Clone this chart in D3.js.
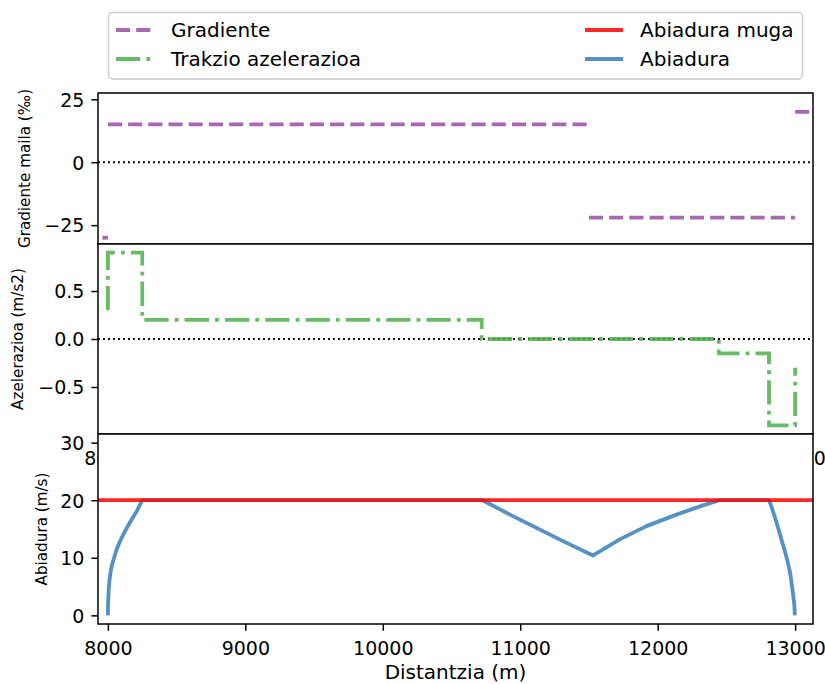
<!DOCTYPE html>
<html>
<head>
<meta charset="utf-8">
<script src="https://cdn.jsdelivr.net/npm/d3@7"></script>
<style>
  body { margin: 0; background: #fff; }
  svg { display: block; }
  text { font-family: "DejaVu Sans", sans-serif; }
</style>
</head>
<body>
<svg id="chart" width="825" height="684"></svg>
<script>
// Track section 8000–13000 m: gradient, traction acceleration and speed profile

const distanceTicks = [8000, 9000, 10000, 11000, 12000, 13000];

// Gradient (‰): separate horizontal pieces
const gradientStart = [7960, 8000, 11500, 13000];
const gradientEnd   = [8000, 11500, 13000, 13120];
const gradientValue = [-30, 15, -22, 20];
const gradientTicks = [-25, 0, 25];

// Traction acceleration (m/s2) as a stepped polyline
const accelDistance = [8000, 8000, 8250, 8250, 10720, 10720, 12445, 12445, 12810, 12810, 13000, 13000];
const accelValue    = [0.3, 0.9, 0.9, 0.2, 0.2, 0.0, 0.0, -0.15, -0.15, -0.9, -0.9, -0.3];
const accelTicks = [-0.5, 0, 0.5];

// Speed profile (m/s)
const speedDistance = [8000, 8002, 8006, 8012, 8020, 8030, 8045, 8063, 8085, 8111, 8140, 8172, 8208, 8250,
  10725, 10925, 11118, 11311, 11530, 11724, 11918, 12136, 12329, 12450,
  12810, 12830, 12851, 12875, 12900, 12925, 12948, 12965, 12977, 12987, 12994, 12998];
const speedValue = [0, 2.5, 4.5, 6.2, 7.6, 8.8, 10.0, 11.4, 12.7, 14.0, 15.3, 16.6, 18.0, 20,
  20, 17.5, 15.2, 12.9, 10.4, 13.2, 15.5, 17.5, 19.1, 20,
  20, 18.7, 17.2, 15.3, 13.2, 11.2, 9.1, 7.2, 5.1, 3.3, 1.8, 0];
const speedLimit = 20;
const speedTicks = [0, 10, 20, 30];

// Legend entries
const legendLabels = ["Gradiente", "Trakzio azelerazioa", "Abiadura muga", "Abiadura"];

const COLORS = {
  gradient: "#984ea3",
  accel: "#4daf4a",
  limit: "#ff0000",
  speed: "#377eb8"
};
const LW = 3.8;
const FS = 19;
const FS_LABEL = 20;

const svg = d3.select("#chart");
const left = 98, right = 813;

const x = d3.scaleLinear().domain([7928, 13130]).range([left, right]);

const panels = {
  grad:  { top: 93,  bottom: 244, domain: [-32.5, 27.5] },
  accel: { top: 244, bottom: 434, domain: [-0.99, 0.99] },
  speed: { top: 434, bottom: 624, domain: [-1.5, 31.5] }
};
for (const k in panels) {
  const p = panels[k];
  p.y = d3.scaleLinear().domain(p.domain).range([p.bottom, p.top]);
}

const defs = svg.append("defs");
function makePanel(key) {
  const p = panels[key];
  defs.append("clipPath").attr("id", "clip-" + key)
    .append("rect").attr("x", left).attr("y", p.top)
    .attr("width", right - left).attr("height", p.bottom - p.top);
  const g = svg.append("g").attr("class", "panel-" + key);
  g.append("rect").attr("x", left).attr("y", p.top)
    .attr("width", right - left).attr("height", p.bottom - p.top)
    .attr("fill", "#fff");
  const plot = g.append("g").attr("clip-path", "url(#clip-" + key + ")");
  return { g, plot, p };
}

function styleAxis(ax) {
  ax.select(".domain").remove();
  ax.selectAll(".tick line").attr("stroke", "#000").attr("stroke-width", 1.5);
  ax.selectAll(".tick text").attr("fill", "#000").attr("font-size", FS)
    .attr("font-family", "DejaVu Sans, sans-serif");
}

function yAxis(panel, ticks, fmt) {
  const ax = panel.g.append("g").attr("transform", `translate(${left},0)`)
    .call(d3.axisLeft(panel.p.y).tickValues(ticks).tickFormat(fmt).tickSize(6.65).tickPadding(7));
  styleAxis(ax);
  ax.selectAll(".tick text").attr("dy", "0.36em");
  return ax;
}

function xAxis(panel) {
  const ax = panel.g.append("g").attr("transform", `translate(0,${panel.p.bottom})`)
    .call(d3.axisBottom(x).tickValues(distanceTicks).tickFormat(d3.format("d")).tickSize(6.65));
  styleAxis(ax);
  ax.selectAll(".tick text").attr("y", 31).attr("dy", 0);
  return ax;
}

function frame(panel) {
  panel.g.append("rect").attr("x", left).attr("y", panel.p.top)
    .attr("width", right - left).attr("height", panel.p.bottom - panel.p.top)
    .attr("fill", "none").attr("stroke", "#000").attr("stroke-width", 1.5);
}

function zeroLine(panel) {
  panel.plot.append("line")
    .attr("x1", left).attr("x2", right)
    .attr("y1", panel.p.y(0)).attr("y2", panel.p.y(0))
    .attr("stroke", "#000").attr("stroke-width", 1.9)
    .attr("stroke-dasharray", "1.9,3.1");
}

function yLabel(panel, text, xPos) {
  const cy = (panel.p.top + panel.p.bottom) / 2;
  panel.g.append("text")
    .attr("transform", `translate(${xPos},${cy}) rotate(-90)`)
    .attr("text-anchor", "middle")
    .attr("font-size", 15.2).attr("fill", "#000")
    .text(text);
}

// ---- Gradient panel ----
const pg = makePanel("grad");
zeroLine(pg);
pg.plot.selectAll("line.grad")
  .data(gradientValue.map((v, i) => ({ s: gradientStart[i], e: gradientEnd[i], v })))
  .join("line").attr("class", "grad")
  .attr("x1", d => x(d.s)).attr("x2", d => x(d.e))
  .attr("y1", d => pg.p.y(d.v)).attr("y2", d => pg.p.y(d.v))
  .attr("stroke", COLORS.gradient).attr("stroke-opacity", 0.85)
  .attr("stroke-width", LW).attr("stroke-dasharray", "14.1,6.1");
yAxis(pg, gradientTicks, d3.format("d"));
frame(pg);
yLabel(pg, "Gradiente maila (‰)", 30);

// ---- Acceleration panel ----
const pa = makePanel("accel");
zeroLine(pa);
const accelPts = accelDistance.map((d, i) => [d, accelValue[i]]);
pa.plot.append("path")
  .attr("d", d3.line().x(d => x(d[0])).y(d => pa.p.y(d[1]))(accelPts))
  .attr("fill", "none")
  .attr("stroke", COLORS.accel).attr("stroke-opacity", 0.85)
  .attr("stroke-width", LW).attr("stroke-dasharray", "24.3,6.1,3.8,6.1");
xAxis(pa);
yAxis(pa, accelTicks, d3.format(".1f"));
frame(pa);
yLabel(pa, "Azelerazioa (m/s2)", 23);

// ---- Speed panel ----
const ps = makePanel("speed");
const speedPts = speedDistance.map((d, i) => [d, speedValue[i]]);
ps.plot.append("path")
  .attr("d", d3.line().x(d => x(d[0])).y(d => ps.p.y(d[1]))(speedPts))
  .attr("fill", "none")
  .attr("stroke", COLORS.speed).attr("stroke-opacity", 0.85)
  .attr("stroke-width", LW).attr("stroke-linejoin", "round");
ps.plot.append("line")
  .attr("x1", left).attr("x2", right)
  .attr("y1", ps.p.y(speedLimit)).attr("y2", ps.p.y(speedLimit))
  .attr("stroke", COLORS.limit).attr("stroke-opacity", 0.85)
  .attr("stroke-width", LW);
xAxis(ps);
yAxis(ps, speedTicks, d3.format("d"));
frame(ps);
yLabel(ps, "Abiadura (m/s)", 47);

svg.append("text")
  .attr("x", (left + right) / 2).attr("y", 679)
  .attr("text-anchor", "middle").attr("font-size", FS_LABEL).attr("fill", "#000")
  .text("Distantzia (m)");

// ---- Legend ----
const lg = svg.append("g");
lg.append("rect").attr("x", 108.5).attr("y", 12.5).attr("width", 694).attr("height", 66.5)
  .attr("rx", 4).attr("fill", "#fff").attr("fill-opacity", 0.8)
  .attr("stroke", "#cccccc").attr("stroke-width", 1.5);

const legendItems = [
  { label: legendLabels[0], color: COLORS.gradient, dash: "14.1,6.1", hx: 116, ty: 30 },
  { label: legendLabels[1], color: COLORS.accel, dash: "24.3,6.1,3.8,6.1", hx: 116, ty: 59 },
  { label: legendLabels[2], color: COLORS.limit, dash: null, hx: 585, ty: 30 },
  { label: legendLabels[3], color: COLORS.speed, dash: null, hx: 585, ty: 59 }
];
legendItems.forEach(it => {
  lg.append("line")
    .attr("x1", it.hx).attr("x2", it.hx + 38)
    .attr("y1", it.ty).attr("y2", it.ty)
    .attr("stroke", it.color).attr("stroke-opacity", 0.85)
    .attr("stroke-width", LW)
    .attr("stroke-dasharray", it.dash);
  lg.append("text")
    .attr("x", it.hx + 55).attr("y", it.ty).attr("dy", "0.36em")
    .attr("font-size", FS_LABEL).attr("fill", "#000")
    .text(it.label);
});
</script>
</body>
</html>
